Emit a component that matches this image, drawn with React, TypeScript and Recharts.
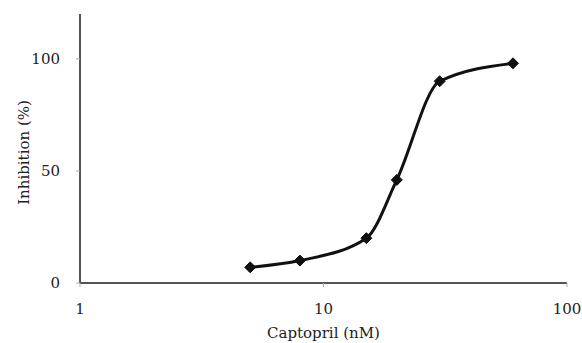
import React from 'react';
import { LineChart, Line, XAxis, YAxis } from 'recharts';

const concentrations = [5, 8, 15, 20, 30, 60];
const inhibition = [7, 10, 20, 46, 90, 98];
const xTicks = [1, 10, 100];
const yTicks = [0, 50, 100];

const data = concentrations.map((c, i) => ({ conc: c, inhibition: inhibition[i] }));

const fontFamily = '"DejaVu Serif", serif';
const axisColor = '#555';

const Diamond = (props: any) => {
  const { cx, cy } = props;
  if (cx == null || cy == null) return null;
  const r = 5.5;
  return (
    <path
      d={`M${cx},${cy - r} L${cx + r},${cy} L${cx},${cy + r} L${cx - r},${cy} Z`}
      fill="#111"
      stroke="#111"
    />
  );
};

export default function App() {
  return (
    <div
      style={{
        position: 'fixed',
        top: 0,
        left: 0,
        width: 582,
        height: 343,
        overflow: 'hidden',
        background: '#fff',
      }}
    >
      <LineChart
        width={582}
        height={343}
        data={data}
        margin={{ top: 14, right: 15, left: 0, bottom: 0 }}
      >
        <XAxis
          dataKey="conc"
          type="number"
          scale="log"
          domain={[1, 100]}
          ticks={xTicks}
          interval={0}
          allowDataOverflow
          height={60}
          axisLine={{ stroke: axisColor, strokeWidth: 2 }}
          tickLine={{ stroke: '#aaa' }}
          tickSize={4}
          tickMargin={16}
          tick={{ fill: '#222', fontSize: 15, fontFamily }}
          label={{
            value: 'Captopril (nM)',
            position: 'insideBottom',
            offset: 5,
            fill: '#222',
            fontSize: 15,
            fontFamily,
          }}
        />
        <YAxis
          type="number"
          domain={[0, 120]}
          ticks={yTicks}
          width={80}
          axisLine={{ stroke: axisColor, strokeWidth: 2 }}
          tickLine={{ stroke: '#aaa' }}
          tickSize={4}
          tickMargin={16}
          tick={{ fill: '#222', fontSize: 15, fontFamily }}
          label={{
            value: 'Inhibition (%)',
            angle: -90,
            position: 'center',
            dx: -16,
            dy: 4,
            fill: '#222',
            fontSize: 15,
            fontFamily,
          }}
        />
        <Line
          type="monotone"
          dataKey="inhibition"
          stroke="#111"
          strokeWidth={3}
          dot={<Diamond />}
          activeDot={false}
          isAnimationActive={false}
        />
      </LineChart>
    </div>
  );
}
